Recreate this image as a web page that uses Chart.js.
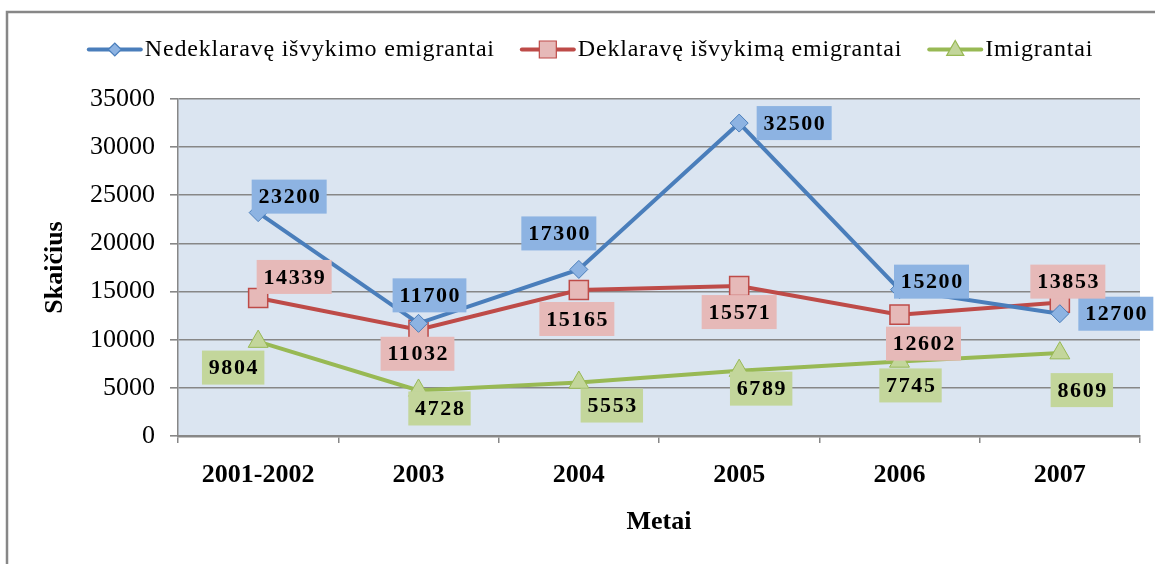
<!DOCTYPE html>
<html lang="lt">
<head>
    <meta charset="UTF-8">
    <title>Emigrantai ir imigrantai</title>
    <script src="https://cdn.jsdelivr.net/npm/chart.js"></script>
    <style>
        body { margin: 0; background: #fff; overflow: hidden; }
    </style>
</head>
<body>
    <canvas id="lineChart" width="1155" height="564"></canvas>

    <script>
        // data
        const categories = ['2001-2002', '2003', '2004', '2005', '2006', '2007'];
        const nedeklaraveValues = [23200, 11700, 17300, 32500, 15200, 12700];
        const deklaraveValues = [14339, 11032, 15165, 15571, 12602, 13853];
        const imigrantaiValues = [9804, 4728, 5553, 6789, 7745, 8609];
        const seriesNames = ['Nedeklaravę išvykimo emigrantai', 'Deklaravę išvykimą emigrantai', 'Imigrantai'];

        // where each value box sits relative to its point (px)
        const labelOffsets = [
            [[31, -16], [11, -28], [-20, -36], [55, 0], [32, -8], [56, 0]],
            [[36, -21], [-1, 24], [-2, 29], [0, 26], [24, 29], [8, -21]],
            [[-25, 26], [21, 18], [33, 23], [22, 18], [11, 24], [22, 37]]
        ];
        const labelFills = ['#8DB3E2', '#E6B9B8', '#C3D69B'];

        const serif = "'Liberation Serif', 'Times New Roman', serif";
        const gridGray = '#878787';

        const frameAndBackground = {
            id: 'frameAndBackground',
            beforeDraw(chart) {
                const ctx = chart.ctx;
                const a = chart.chartArea;
                ctx.save();
                ctx.strokeStyle = '#878787';
                ctx.lineWidth = 2.5;
                ctx.strokeRect(7, 12, 1300, 700);
                ctx.fillStyle = '#DBE5F1';
                ctx.fillRect(a.left, a.top, a.right - a.left, a.bottom - a.top);
                ctx.restore();
            }
        };

        const valueBoxes = {
            id: 'valueBoxes',
            afterDatasetsDraw(chart) {
                const ctx = chart.ctx;
                ctx.save();
                ctx.font = 'bold 22px ' + serif;
                ctx.letterSpacing = '1.6px';
                ctx.textAlign = 'center';
                ctx.textBaseline = 'middle';
                chart.data.datasets.forEach((ds, di) => {
                    const meta = chart.getDatasetMeta(di);
                    meta.data.forEach((pt, i) => {
                        const text = String(ds.data[i]);
                        const off = labelOffsets[di][i];
                        const cx = pt.x + off[0];
                        const cy = pt.y + off[1];
                        const w = ctx.measureText(text).width + 12;
                        const h = 34;
                        ctx.fillStyle = labelFills[di];
                        ctx.fillRect(cx - w / 2, cy - h / 2, w, h);
                        ctx.fillStyle = '#000';
                        ctx.fillText(text, cx + 0.8, cy + 1);
                    });
                });
                ctx.restore();
            }
        };

        function drawMarker(ctx, style, x, y, r, fill, stroke) {
            ctx.beginPath();
            if (style === 'rectRot') {
                ctx.moveTo(x - r, y);
                ctx.lineTo(x, y - r);
                ctx.lineTo(x + r, y);
                ctx.lineTo(x, y + r);
            } else if (style === 'rect') {
                ctx.rect(x - r, y - r, 2 * r, 2 * r);
            } else {
                ctx.moveTo(x, y - r);
                ctx.lineTo(x + r * 0.95, y + r * 0.65);
                ctx.lineTo(x - r * 0.95, y + r * 0.65);
            }
            ctx.closePath();
            ctx.fillStyle = fill;
            ctx.fill();
            ctx.lineWidth = 1.2;
            ctx.strokeStyle = stroke;
            ctx.stroke();
        }

        const lineLegend = {
            id: 'lineLegend',
            afterDraw(chart) {
                const ctx = chart.ctx;
                const legendSizes = [6.5, 8.5, 9];
                ctx.save();
                ctx.font = '24px ' + serif;
                ctx.letterSpacing = '0.8px';
                ctx.textBaseline = 'middle';
                const lineW = 52, gapText = 4, gapItem = 27;
                const widths = chart.data.datasets.map(ds => ctx.measureText(ds.label).width);
                const total = widths.reduce((s, w) => s + lineW + gapText + w, 0) + gapItem * (widths.length - 1);
                let x = 591 - total / 2;
                const y = 49.5;
                chart.data.datasets.forEach((ds, di) => {
                    ctx.strokeStyle = ds.borderColor;
                    ctx.lineWidth = 4;
                    ctx.lineCap = 'round';
                    ctx.beginPath();
                    ctx.moveTo(x, y);
                    ctx.lineTo(x + lineW, y);
                    ctx.stroke();
                    drawMarker(ctx, ds.pointStyle, x + lineW / 2, y, legendSizes[di], ds.pointBackgroundColor, ds.borderColor);
                    ctx.fillStyle = '#000';
                    ctx.fillText(ds.label, x + lineW + gapText, y);
                    x += lineW + gapText + widths[di] + gapItem;
                });
                ctx.restore();
            }
        };

        const ctx = document.getElementById('lineChart').getContext('2d');
        new Chart(ctx, {
            type: 'line',
            data: {
                labels: categories,
                datasets: [{
                    label: seriesNames[0],
                    data: nedeklaraveValues,
                    borderColor: '#4A7EBB',
                    backgroundColor: '#4A7EBB',
                    borderWidth: 4,
                    pointStyle: 'rectRot',
                    pointRadius: 9,
                    pointBackgroundColor: '#8DB3E2',
                    pointBorderColor: '#4A7EBB',
                    pointBorderWidth: 1
                }, {
                    label: seriesNames[1],
                    data: deklaraveValues,
                    borderColor: '#BE4B48',
                    backgroundColor: '#BE4B48',
                    borderWidth: 4,
                    pointStyle: 'rect',
                    pointRadius: 13.5,
                    pointBackgroundColor: '#E6B9B8',
                    pointBorderColor: '#BE4B48',
                    pointBorderWidth: 1.5
                }, {
                    label: seriesNames[2],
                    data: imigrantaiValues,
                    borderColor: '#98B954',
                    backgroundColor: '#98B954',
                    borderWidth: 4,
                    pointStyle: 'triangle',
                    pointRadius: 11.5,
                    pointBackgroundColor: '#C3D69B',
                    pointBorderColor: '#98B954',
                    pointBorderWidth: 1
                }]
            },
            options: {
                responsive: false,
                animation: false,
                layout: { padding: { top: 99, right: 13, bottom: 0, left: 0 } },
                plugins: {
                    legend: { display: false },
                    tooltip: { enabled: false }
                },
                elements: { line: { tension: 0 } },
                scales: {
                    x: {
                        offset: true,
                        grid: { offset: true, drawOnChartArea: false, drawTicks: true, tickLength: 7, color: gridGray, lineWidth: 1.5 },
                        border: { color: gridGray, width: 2.5 },
                        ticks: { color: '#000', padding: 17, font: { family: serif, size: 26, weight: 'bold' } },
                        title: { display: true, text: 'Metai', color: '#000', padding: { top: 0, bottom: 26 }, font: { family: serif, size: 26, weight: 'bold' } },
                        afterFit(s) { s.height = 128; }
                    },
                    y: {
                        min: 0,
                        max: 35000,
                        ticks: { stepSize: 5000, color: '#000', padding: 15, font: { family: serif, size: 26 }, callback: v => String(v) },
                        grid: { color: gridGray, lineWidth: 1.6, tickLength: 8 },
                        border: { color: gridGray, width: 1.5 },
                        title: { display: true, text: 'Skaičius', color: '#000', padding: { top: 40, bottom: 0 }, font: { family: serif, size: 26, weight: 'bold' } },
                        afterFit(s) { s.width = 178; }
                    }
                }
            },
            plugins: [frameAndBackground, valueBoxes, lineLegend]
        });
    </script>
</body>
</html>
